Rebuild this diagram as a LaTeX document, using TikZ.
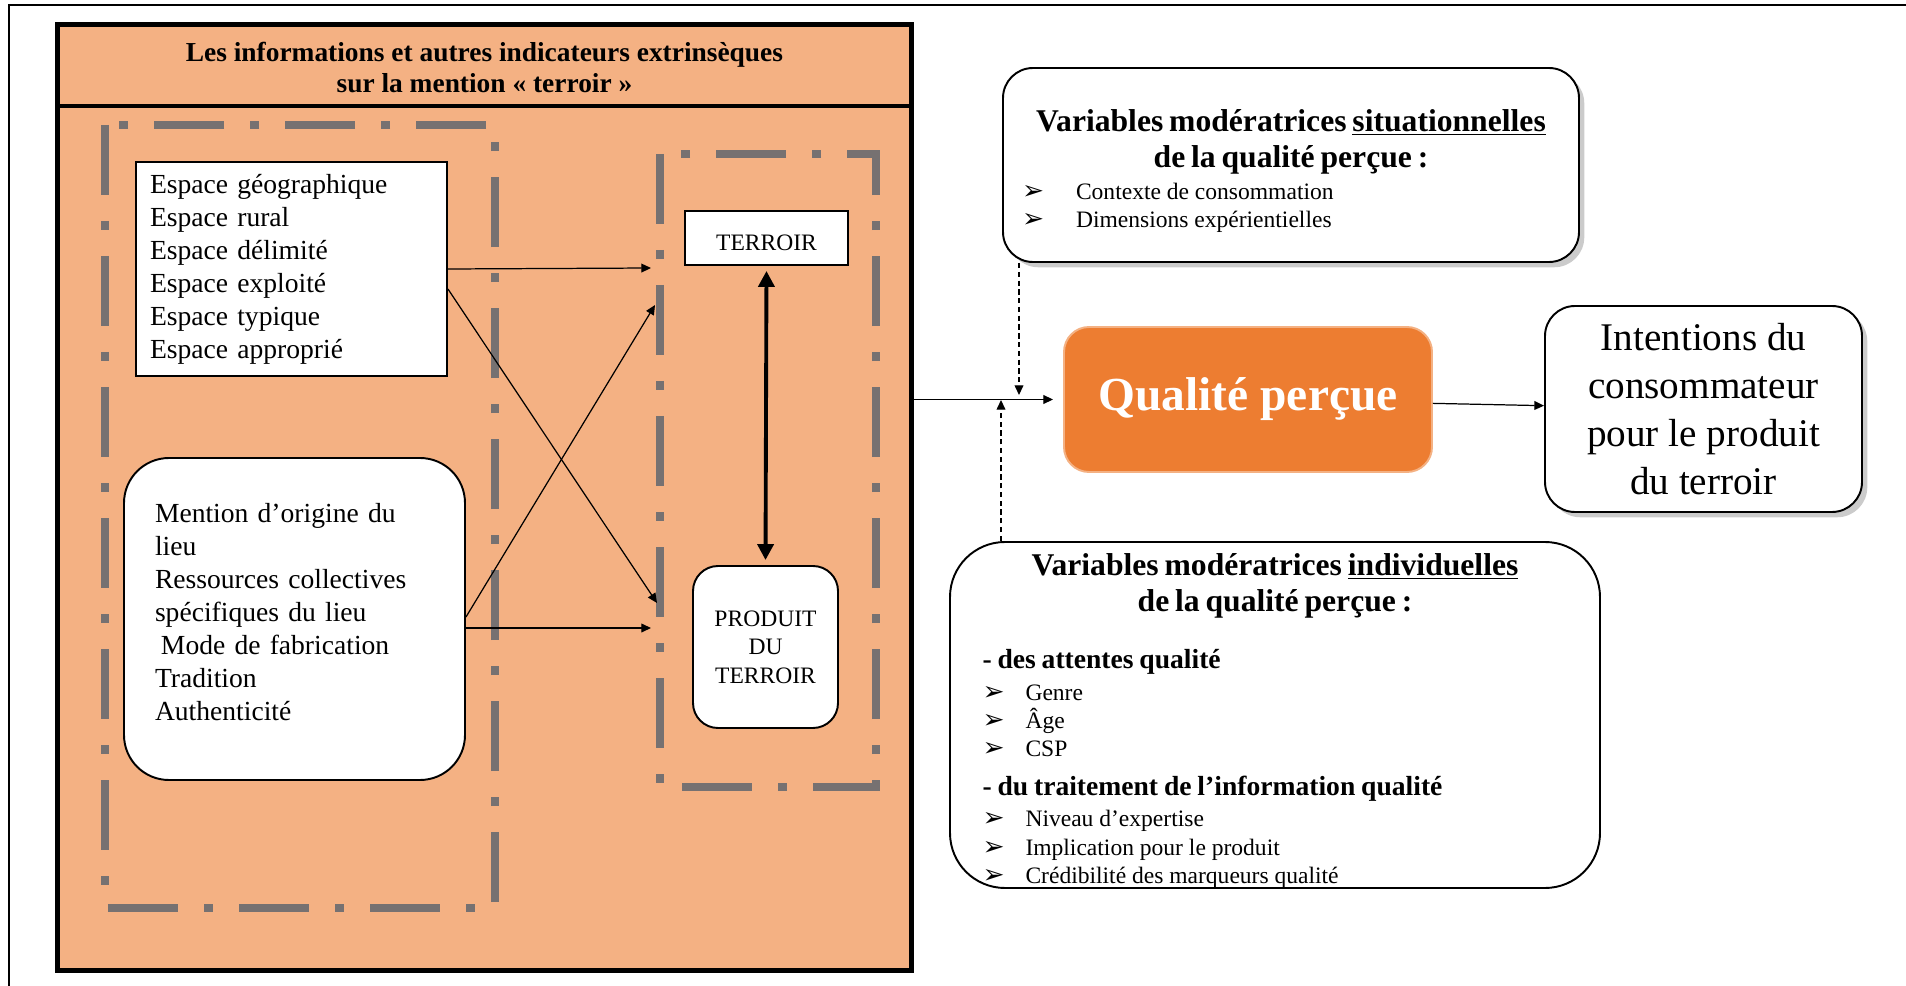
\documentclass[tikz,border=0pt]{standalone}
\usepackage{fontspec}
\setmainfont{Liberation Serif}
\newfontfamily\symfont{DejaVu Sans}
\usetikzlibrary{arrows.meta,positioning,calc,shadows}
\definecolor{infoFill}{RGB}{244,177,131}
\definecolor{qualFill}{RGB}{237,125,49}
\definecolor{groupGray}{RGB}{118,113,113}
\newcommand{\fInfo}{\fontsize{15.6}{17.6}\selectfont\bfseries}
\newcommand{\fEsp}{\fontsize{15.7}{18.8}\selectfont}
\newcommand{\fTerr}{\fontsize{13.4}{16.2}\selectfont}
\newcommand{\fQual}{\fontsize{27}{32}\selectfont\bfseries}
\newcommand{\fIntent}{\fontsize{22.3}{27.2}\selectfont}
\newcommand{\fTitre}{\fontsize{18}{20.5}\selectfont\bfseries}
\newcommand{\fSous}{\fontsize{15.7}{18}\selectfont\bfseries}
\newcommand{\fItem}{\fontsize{13.4}{16}\selectfont}
\newcommand{\puce}[2]{\hspace*{#1}\makebox[#2][l]{\symfont\fontsize{15}{15}\selectfont ➢}}

\begin{document}
\begin{tikzpicture}[
    box/.style={draw, line width=1.1pt, fill=white},
    groupe/.style={draw=groupGray, line width=4.5pt, dash pattern=on 1.4cm off 0.52cm on 0.18cm off 0.52cm},
    fleche/.style={-{Triangle[length=5.5pt,width=5pt]}, line width=0.7pt},
    ombre/.style={drop shadow={shadow xshift=3pt, shadow yshift=-3pt, fill=black!40}},
    >=Stealth
  ]
    \useasboundingbox (0,0) rectangle (38.12,-19.72);
    \fill[white] (0,0) rectangle (38.12,-19.72);
    \draw[line width=0.9pt] (0.18,-19.72) -- (0.18,-0.10) -- (38.12,-0.10);

    % bloc des indicateurs extrinseques
    \node[draw, line width=2.8pt, fill=infoFill, minimum width=17.08cm, minimum height=18.92cm, anchor=north west] (info) at (1.10,-0.44) {};
    \draw[line width=2pt] ($(info.north west)+(0,-1.68)$) -- ($(info.north east)+(0,-1.68)$);
    \node[font=\fInfo, align=center] (infoT) at ($(info.north)+(0,-0.91)$) {Les informations et autres indicateurs extrinsèques\\sur la mention « terroir »};
    \draw[groupe] (2.10,-2.50) rectangle (9.90,-18.16);
    \draw[groupe] (13.20,-3.08) rectangle (17.52,-15.74);

    \node[box, align=left, text width=5.66cm, minimum height=4.28cm, inner xsep=0.28cm, font=\fEsp] (esp) at (5.83,-5.38) {Espace géographique\\Espace rural\\Espace délimité\\Espace exploité\\Espace typique\\Espace approprié};
    \node[box, rounded corners=0.9cm, minimum width=6.82cm, minimum height=6.44cm] (ment) at (5.89,-12.38) {};
    \node[align=left, text width=5.58cm, font=\fEsp] (mentT) at ([yshift=0.14cm]ment.center) {Mention d’origine du\\lieu\\Ressources collectives\\spécifiques du lieu\\\hspace*{3.4pt}Mode de fabrication\\Tradition\\Authenticité};
    \node[box, align=center, minimum width=3.26cm, minimum height=1.08cm, text height=0.51cm, text depth=0cm, font=\fTerr] (terr) at (15.33,-4.76) {TERROIR};
    \node[box, align=center, rounded corners=0.5cm, minimum width=2.90cm, minimum height=3.24cm, font=\fTerr] (prod) at (15.31,-12.94) {PRODUIT\\DU\\TERROIR};
    \draw[{Triangle[length=9pt,width=9pt]}-{Triangle[length=9pt,width=9pt]}, line width=2.2pt, shorten <=0.1cm, shorten >=0.1cm] (terr.south) -- (prod.north);

    \coordinate (tA) at (13.02,-5.36);
    \coordinate (tB) at (13.14,-12.06);
    \coordinate (tC) at (13.10,-6.10);
    \coordinate (tD) at (13.02,-12.56);
    \draw[fleche] (esp.east) -- (tA);
    \draw[fleche] ([yshift=-0.40cm]esp.east) -- (tB);
    \draw[fleche] ([yshift=0.04cm]ment.east) -- (tC);
    \draw[fleche] ([yshift=-0.18cm]ment.east) -- (tD);

    % qualite percue et variables moderatrices
    \node[box, draw=infoFill, fill=qualFill, rounded corners=0.5cm, minimum width=7.36cm, minimum height=2.90cm, text=white, font=\fQual] (qual) at (24.96,-7.99) {Qualité perçue};
    \node[box, ombre, align=center, rounded corners=0.6cm, minimum width=6.34cm, minimum height=4.12cm, font=\fIntent] (intent) at (34.07,-8.18) {Intentions du\\consommateur\\pour le produit\\du terroir};
    \node[box, ombre, rounded corners=0.6cm, minimum width=11.52cm, minimum height=3.88cm] (situ) at (25.82,-3.30) {};
    \node[text width=10.9cm] (situT) at ([yshift=-0.12cm]situ.center) {%
      {\centering\fTitre Variables modératrices \underline{situationnelles}\\de la qualité perçue :\par}
      \vspace{2.2pt}
      {\raggedright\fItem\puce{0.07cm}{1.08cm}Contexte de consommation\\\puce{0.07cm}{1.08cm}Dimensions expérientielles\par}};
    \node[box, rounded corners=1.1cm, minimum width=13cm, minimum height=6.92cm] (indiv) at (25.50,-14.30) {};
    \node[text width=11.7cm, inner ysep=0pt] (indivT) at ([yshift=-0.12cm]indiv.center) {%
      {\centering\fTitre Variables modératrices \underline{individuelles}\\de la qualité perçue :\par}
      \vspace{14.4pt}
      {\raggedright\fSous - des attentes qualité\par}
      \vspace{2.2pt}
      {\raggedright\fItem\puce{0cm}{0.86cm}Genre\\\puce{0cm}{0.86cm}Âge\\\puce{0cm}{0.86cm}CSP\par}
      \vspace{4.2pt}
      {\raggedright\fSous - du traitement de l’information qualité\par}
      \vspace{1.6pt}
      {\raggedright\fItem\puce{0cm}{0.86cm}Niveau d’expertise\\\puce{0cm}{0.86cm}Implication pour le produit\\\puce{0cm}{0.86cm}Crédibilité des marqueurs qualité\par}};

    \draw[fleche, shorten >=0.2cm] (info.east |- qual.west) -- (qual.west);
    \draw[fleche] (qual) -- (intent);
    \coordinate (jS) at (20.38,-7.90);
    \coordinate (jI) at (20.02,-8.00);
    \draw[fleche, dash pattern=on 3pt off 2pt] (jS |- situ.south) -- (jS);
    \draw[fleche, dash pattern=on 3pt off 2pt] (jI |- indiv.north) -- (jI);
  \end{tikzpicture}
\end{document}
